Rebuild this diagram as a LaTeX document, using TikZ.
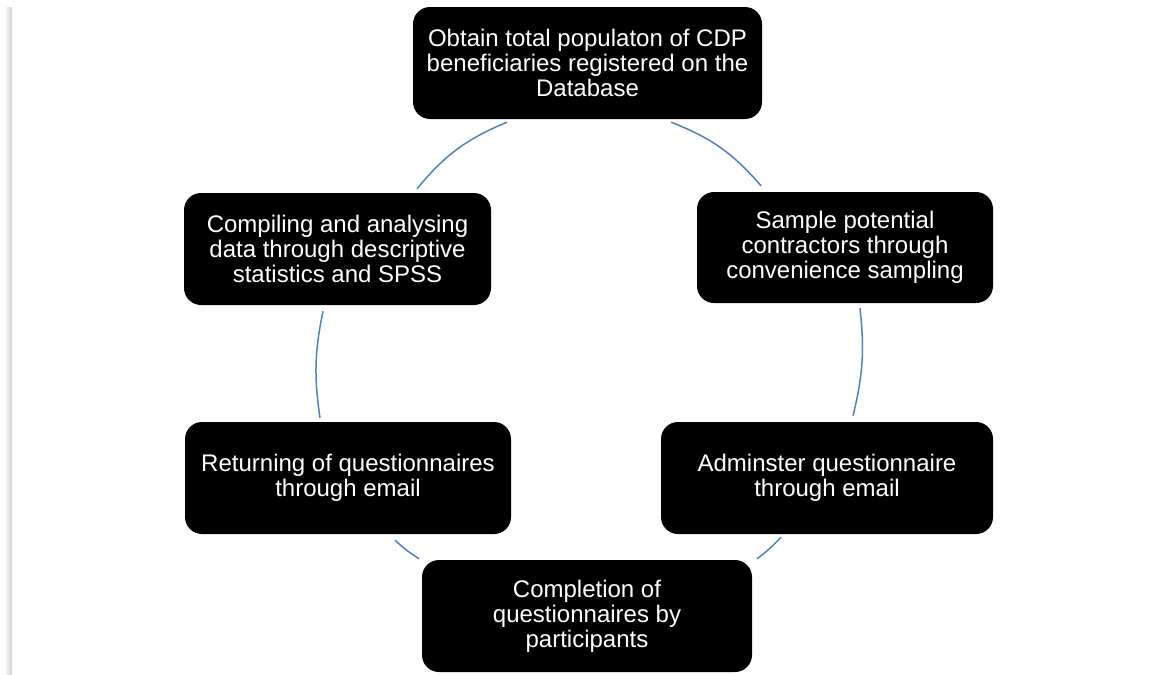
\documentclass[tikz,border=0pt]{standalone}
\usepackage{fontspec}
\setmainfont{Liberation Sans}
\definecolor{arcblue}{HTML}{4F81BD}
\begin{document}
\begin{tikzpicture}[x=1pt,y=1pt,
  stepbox/.style={fill=black, text=white, rounded corners=17pt, align=center,
    minimum height=112pt, inner sep=0pt, font=\fontsize{24}{25}\selectfont},
  cyclearc/.style={draw=arcblue, line width=1.5pt}]
\useasboundingbox (0,0) rectangle (1163,-675);
\shade[left color=white, right color=black!18] (4,-7) rectangle (12,-675);

\node[stepbox, minimum width=349pt] (top) at (587.5,-63) {Obtain total populaton of CDP\\beneficiaries registered on the\\Database};
\node[stepbox, minimum width=296pt, minimum height=111pt] (ru) at (845,-247.5) {Sample potential\\contractors through\\convenience sampling};
\node[stepbox, minimum width=332pt] (rl) at (827,-478) {Adminster questionnaire\\through email};
\node[stepbox, minimum width=330pt] (bot) at (587,-616) {Completion of\\questionnaires by\\participants};
\node[stepbox, minimum width=326pt] (ll) at (348,-478) {Returning of questionnaires\\through email};
\node[stepbox, minimum width=307pt] (lu) at (337.5,-249) {Compiling and analysing\\data through descriptive\\statistics and SPSS};

\coordinate (a1s) at ([shift={(83.5,-3)}]top.south);
\coordinate (a1e) at ([shift={(-84,6)}]ru.north);
\coordinate (a2s) at ([shift={(15,-5)}]ru.south);
\coordinate (a2e) at ([shift={(26,6)}]rl.north);
\coordinate (a3s) at ([shift={(-46,-3)}]rl.south);
\coordinate (a3e) at ([shift={(170,1)}]bot.north);
\coordinate (a4s) at ([shift={(-168,1)}]bot.north);
\coordinate (a4e) at ([shift={(47,-6)}]ll.south);
\coordinate (a5s) at ([shift={(-28,4)}]ll.north);
\coordinate (a5e) at ([shift={(-14.5,-6)}]lu.south);
\coordinate (a6s) at ([shift={(79.5,4)}]lu.north);
\coordinate (a6e) at ([shift={(-80.5,-3)}]top.south);

\draw[cyclearc] (a1s) to[bend left=14] (a1e);
\draw[cyclearc] (a2s) to[bend left=10] (a2e);
\draw[cyclearc] (a3s) to[bend left=5] (a3e);
\draw[cyclearc] (a4s) to[bend left=5] (a4e);
\draw[cyclearc] (a5s) to[bend left=10] (a5e);
\draw[cyclearc] (a6s) to[bend left=14] (a6e);
\end{tikzpicture}
\end{document}
